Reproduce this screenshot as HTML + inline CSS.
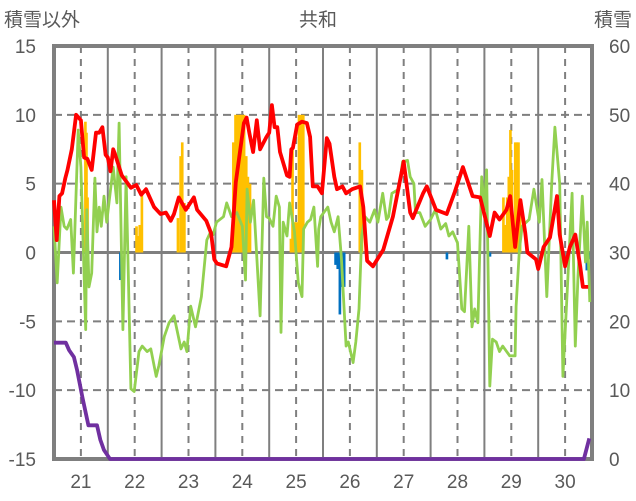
<!DOCTYPE html>
<html><head><meta charset="utf-8">
<style>
html,body{margin:0;padding:0;background:#fff;}
svg{display:block;font-family:"Liberation Sans","Noto Sans CJK JP",sans-serif;}
</style></head>
<body>
<svg id="chart" width="636" height="501" viewBox="0 0 636 501" xmlns="http://www.w3.org/2000/svg">
<text x="4" y="26" font-size="19" fill="#595959">積雪以外</text>
<text x="318" y="26" font-size="19" fill="#595959" text-anchor="middle">共和</text>
<text x="632" y="26" font-size="19" fill="#595959" text-anchor="end">積雪</text>
<g id="grid"></g>
<g id="bars"></g>
<g id="frame"></g>
<g id="lines"></g>
<g id="axes"></g>
</svg>
<script>
const dayTicks = [21,22,23,24,25,26,27,28,29,30];
const leftTicks = [15,10,5,0,-5,-10,-15];
const rightTicks = [60,50,40,30,20,10,0];

const redT = [20.5,20.55,20.6,20.65,20.71,20.75,20.83,20.91,21.0,21.06,21.12,21.2,21.28,21.34,21.4,21.46,21.5,21.55,21.6,21.63,21.76,21.93,22.03,22.12,22.21,22.36,22.48,22.58,22.67,22.73,22.82,22.95,23.05,23.1,23.16,23.33,23.42,23.48,23.53,23.7,23.8,23.88,24.03,24.08,24.13,24.2,24.27,24.33,24.45,24.5,24.55,24.6,24.65,24.7,24.83,24.88,24.91,24.94,25.02,25.11,25.2,25.26,25.31,25.4,25.48,25.57,25.62,25.71,25.76,25.86,25.93,26.04,26.19,26.25,26.32,26.43,26.62,26.8,27.0,27.12,27.17,27.36,27.43,27.6,27.8,27.95,28.1,28.28,28.42,28.6,28.69,28.78,28.91,28.98,29.07,29.17,29.26,29.3,29.46,29.5,29.6,29.72,29.85,29.9,30.0,30.09,30.19,30.28,30.33,30.43];
const redV = [3.8,0.9,4.1,4.3,5.4,6.0,7.5,10.0,9.6,6.9,6.8,6.0,8.7,8.7,9.1,7.1,6.9,5.9,7.5,7.2,5.6,4.7,4.9,4.2,4.6,3.3,2.8,2.9,2.3,2.8,4.0,3.1,3.7,4.0,3.1,2.3,1.4,-0.5,-0.8,-1.0,0.4,5.1,9.4,9.8,8.7,7.3,9.6,7.5,8.4,8.7,10.7,9.1,9.1,7.3,5.6,5.5,7.5,7.6,9.3,9.5,9.4,8.4,4.8,4.8,4.3,8.3,7.9,5.5,4.6,4.8,4.3,4.6,4.8,3.3,-0.6,-1.0,0.2,2.6,6.6,2.9,2.5,4.3,4.8,3.1,2.8,4.4,6.2,4.1,4.0,1.2,2.9,2.4,3.1,4.1,0.4,3.8,1.4,0.0,-0.5,-1.2,0.4,1.1,4.1,1.3,-1.0,0.4,1.3,-1.0,-2.5,-2.5];

const greenT = [20.5,20.56,20.63,20.69,20.74,20.81,20.86,20.95,21.0,21.09,21.11,21.15,21.2,21.26,21.3,21.34,21.38,21.43,21.48,21.6,21.67,21.71,21.78,21.84,21.93,21.99,22.08,22.14,22.23,22.3,22.4,22.45,22.55,22.64,22.73,22.86,22.92,22.97,23.04,23.13,23.24,23.34,23.41,23.46,23.52,23.65,23.71,23.8,23.9,24.0,24.06,24.09,24.15,24.21,24.33,24.4,24.45,24.5,24.57,24.63,24.69,24.72,24.76,24.83,24.88,24.97,25.04,25.11,25.14,25.21,25.27,25.33,25.4,25.42,25.46,25.59,25.65,25.71,25.78,25.84,25.93,25.97,26.06,26.11,26.17,26.22,26.28,26.37,26.46,26.52,26.61,26.68,26.72,26.78,26.91,26.98,27.07,27.12,27.19,27.22,27.3,27.4,27.5,27.59,27.69,27.78,27.84,27.91,28.0,28.08,28.13,28.21,28.27,28.32,28.38,28.45,28.5,28.54,28.6,28.65,28.72,28.78,28.84,28.97,29.07,29.09,29.15,29.2,29.33,29.42,29.52,29.57,29.66,29.75,29.81,29.9,29.96,30.04,30.13,30.19,30.24,30.32,30.38,30.41,30.46];
const greenV = [1.9,-2.2,3.3,1.9,1.7,2.4,-1.5,8.9,6.2,-5.6,3.1,-2.5,-1.5,5.4,1.5,3.3,1.9,4.1,2.2,6.2,3.6,9.4,-5.6,5.5,-9.9,-10.1,-7.2,-6.8,-7.2,-7.0,-9.0,-8.2,-6.1,-5.1,-4.6,-7.0,-6.5,-7.2,-3.9,-5.4,-3.2,0.9,1.5,1.3,2.2,2.6,3.6,2.6,2.9,1.9,-2.0,4.6,2.2,3.8,-4.6,5.4,2.6,2.5,1.9,4.1,3.3,-5.8,2.2,1.2,3.6,1.5,-2.2,-3.2,1.7,2.2,2.4,3.3,-1.0,1.7,2.6,3.3,2.2,1.5,2.6,-0.3,-6.8,-6.5,-8.0,-6.5,-4.1,1.2,2.6,2.2,3.1,2.2,4.3,2.4,2.6,4.3,4.6,6.6,6.7,5.5,5.0,2.9,2.9,1.9,2.4,3.1,1.7,2.1,1.2,1.5,0.7,-4.1,-4.3,1.9,-5.4,-4.1,-5.1,5.5,3.1,6.0,-9.7,-6.3,-6.5,-7.2,-6.8,-7.5,-7.5,-3.9,0.2,1.9,2.4,4.6,2.2,5.3,-3.2,5.0,9.1,5.0,-9.0,-2.7,4.3,-6.8,-1.7,4.1,-0.7,2.2,-3.6];

const snowT = [20.5,20.72,20.78,20.87,20.93,21.03,21.14,21.3,21.36,21.43,21.54,30.35,30.45];
const snowV = [16.9,16.9,15.8,14.8,12.9,8.9,4.9,4.9,2.8,1.3,0,0,3];

const yellowT = [21.08,21.1,21.12,22.03,22.06,22.09,22.13,22.8,22.85,22.88,22.92,23.83,23.87,23.91,23.95,23.99,24.03,24.07,24.1,24.14,24.9,24.93,24.97,25.01,25.05,25.09,25.13,26.18,26.22,28.85,28.88,28.92,28.95,28.98,29.01,29.04,29.07,29.1,29.13,29.16];
const yellowV = [9.5,8.7,4.0,1.9,1.2,2.0,4.5,2.5,7.0,8.0,3.6,8.0,10.0,10.0,10.0,10.0,10.0,7.0,5.5,5.0,1.0,7.5,2.2,2.2,10.0,10.0,10.0,8.0,6.0,4.0,2.0,4.0,5.5,8.9,6.0,2.5,8.0,8.0,8.0,3.5];

const blueT = [21.73,25.73,25.77,25.81,25.85,25.89,27.8,28.6,30.4,30.45];
const blueV = [-2.0,-0.9,-1.2,-4.5,-2.5,-2.5,-0.5,-0.3,-1.3,-0.5];

const X0=54, X1=592, Y0=46, Y1=459;
const xs = d => X0 + (d-20.5)/10*(X1-X0);
const yl = v => Y1 - (v+15)/30*(Y1-Y0);
const yr = v => Y1 - v/60*(Y1-Y0);
const NS="http://www.w3.org/2000/svg";
function mk(tag, parent, attrs){const e=document.createElementNS(NS,tag);for(const k in attrs)e.setAttribute(k,attrs[k]);parent.appendChild(e);return e;}
const grid=document.getElementById('grid'), bars=document.getElementById('bars'), frame=document.getElementById('frame'), lines=document.getElementById('lines'), axes=document.getElementById('axes');

dayTicks.forEach(d=>{
  const l=mk('line',grid,{x1:xs(d),x2:xs(d),y1:Y0,y2:Y1,stroke:'#7f7f7f','stroke-width':2,'stroke-dasharray':'7,6'});
  
  
  const s=mk('line',grid,{x1:xs(d-0.5),x2:xs(d-0.5),y1:Y0,y2:Y1,stroke:'#7f7f7f','stroke-width':2});
  
  
});
leftTicks.forEach(v=>{
  if(v===15||v===-15||v===0)return;
  const l=mk('line',grid,{x1:X0,x2:X1,y1:yl(v),y2:yl(v),stroke:'#7f7f7f','stroke-width':2,'stroke-dasharray':'8,5'});
  
  
});
const zl=mk('line',grid,{x1:X0,x2:X1,y1:yl(0),y2:yl(0),stroke:'#7f7f7f','stroke-width':3});



const bw=(X1-X0)/10/24;
yellowT.forEach((t,i)=>{
  const v=yellowV[i];
  const r=mk('rect',bars,{x:xs(t)-bw/2,y:yl(v),width:bw+0.4,height:yl(0)-yl(v),fill:'#ffc000'});
  
  
});
blueT.forEach((t,i)=>{
  const v=blueV[i];
  const r=mk('rect',bars,{x:xs(t)-bw/2,y:yl(0),width:bw+0.4,height:yl(v)-yl(0),fill:'#0070c0'});
  
  
});

const f=mk('rect',frame,{x:X0,y:Y0,width:X1-X0,height:Y1-Y0,fill:'none',stroke:'#7f7f7f','stroke-width':4});



function path(T,V,yf){return T.map((t,i)=>(i?'L':'M')+xs(t).toFixed(1)+','+yf(V[i]).toFixed(1)).join('');}
const g=mk('path',lines,{d:path(greenT,greenV,yl),fill:'none',stroke:'#92d050','stroke-width':2.8,'stroke-linejoin':'round'});


const r=mk('path',lines,{d:path(redT,redV,yl),fill:'none',stroke:'#ff0000','stroke-width':3.8,'stroke-linejoin':'round'});


const p=mk('path',lines,{d:path(snowT,snowV,yr),fill:'none',stroke:'#7030a0','stroke-width':3.8,'stroke-linejoin':'round'});



leftTicks.forEach(v=>{
  const t=mk('text',axes,{x:36,y:yl(v)+7,'font-size':19,fill:'#595959','text-anchor':'end'});
  t.textContent=v;
  
  
});
rightTicks.forEach(v=>{
  const t=mk('text',axes,{x:609,y:yr(v)+7,'font-size':19,fill:'#595959','text-anchor':'start'});
  t.textContent=v;
  
  
});
dayTicks.forEach(d=>{
  const t=mk('text',axes,{x:xs(d),y:488,'font-size':19,fill:'#595959','text-anchor':'middle'});
  t.textContent=d;
  
  
});
</script>
</body></html>
